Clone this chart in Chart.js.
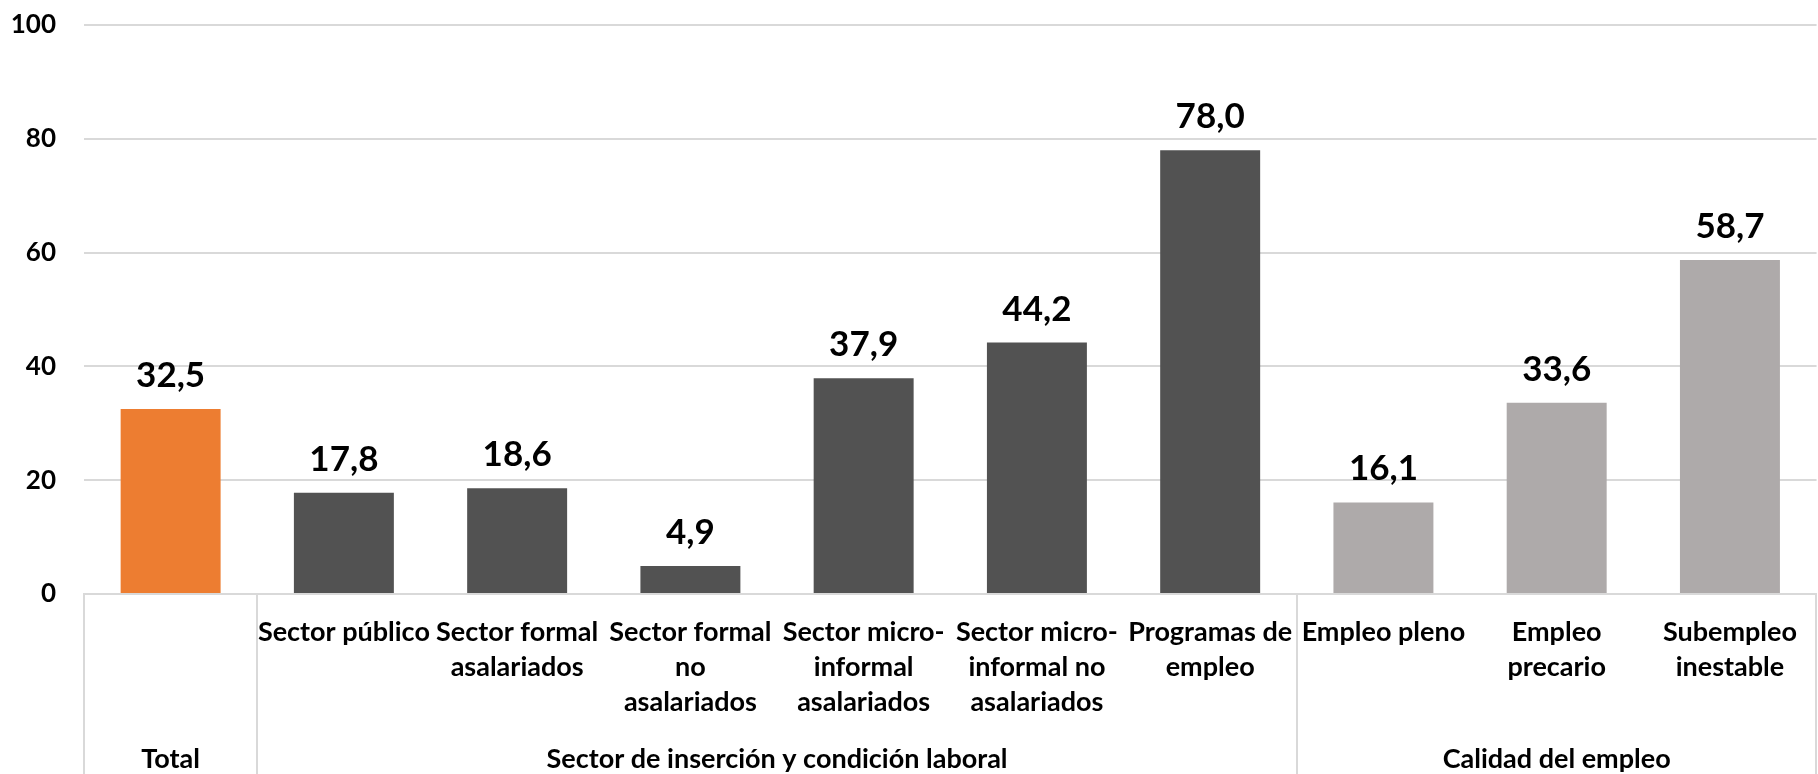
<!DOCTYPE html>
<html>
<head>
<meta charset="utf-8">
<script src="https://cdn.jsdelivr.net/npm/chart.js@4.4.1/dist/chart.umd.min.js"></script>
<style>
  html, body { margin: 0; padding: 0; background: #fff; }
  #wrap { width: 1818px; height: 774px; }
</style>
</head>
<body>
<div id="wrap"><canvas id="chart"></canvas></div>
<script>
// Etiquetas de categoría (multilínea) y valores
const categorias = [
    [''],
    ['Sector público'],
    ['Sector formal', 'asalariados'],
    ['Sector formal', 'no', 'asalariados'],
    ['Sector micro-', 'informal', 'asalariados'],
    ['Sector micro-', 'informal no', 'asalariados'],
    ['Programas de', 'empleo'],
    ['Empleo pleno'],
    ['Empleo', 'precario'],
    ['Subempleo', 'inestable']
];
const valores = [32.5, 17.8, 18.6, 4.9, 37.9, 44.2, 78.0, 16.1, 33.6, 58.7];
const colores = ['#ED7D31', '#525252', '#525252', '#525252', '#525252', '#525252', '#525252', '#AEAAAA', '#AEAAAA', '#AEAAAA'];

// Grupos del eje X: etiqueta, índice inicial y final
const grupos = ['Total', 'Sector de inserción y condición laboral', 'Calidad del empleo'];
const gruposInicio = [0, 1, 7];
const gruposFin = [0, 6, 9];

const yTicks = [0, 20, 40, 60, 80, 100];

const FUENTE = 'Lato, "Open Sans", sans-serif';
const PESO = 'bold';
const GRIS = '#D9D9D9';

// Plugin para las etiquetas de datos encima de cada barra
const etiquetasDatos = {
    id: 'etiquetasDatos',
    afterDatasetsDraw(chart) {
        const ctx = chart.ctx;
        const meta = chart.getDatasetMeta(0);
        ctx.save();
        ctx.font = PESO + ' 35px ' + FUENTE;
        ctx.fillStyle = '#000';
        ctx.textAlign = 'center';
        ctx.textBaseline = 'alphabetic';
        meta.data.forEach((bar, i) => {
            const txt = valores[i].toFixed(1).replace('.', ',');
            ctx.fillText(txt, bar.x, bar.y - 22);
        });
        ctx.restore();
    }
};

// Plugin para los separadores y las etiquetas de grupo bajo el eje
const ejeGrupos = {
    id: 'ejeGrupos',
    afterDraw(chart) {
        const ctx = chart.ctx;
        const area = chart.chartArea;
        const x = chart.scales.x;
        const paso = (area.right - area.left) / categorias.length;
        const bottom = chart.height;
        ctx.save();
        ctx.strokeStyle = GRIS;
        ctx.lineWidth = 2;
        const bordes = [0, 1, 7, categorias.length];
        bordes.forEach(b => {
            const px = Math.round(area.left + b * paso) - (b === categorias.length ? 1 : 0);
            ctx.beginPath();
            ctx.moveTo(px, area.bottom);
            ctx.lineTo(px, bottom);
            ctx.stroke();
        });
        ctx.font = PESO + ' 27px ' + FUENTE;
        ctx.fillStyle = '#000';
        ctx.textAlign = 'center';
        ctx.textBaseline = 'middle';
        grupos.forEach((g, i) => {
            const cx = (x.getPixelForValue(gruposInicio[i]) + x.getPixelForValue(gruposFin[i])) / 2;
            ctx.fillText(g, cx, 759);
        });
        ctx.restore();
    }
};

const ctx = document.getElementById('chart').getContext('2d');
window.graficoInstance = new Chart(ctx, {
    type: 'bar',
    data: {
        labels: categorias,
        datasets: [{
            data: valores,
            backgroundColor: colores,
            borderWidth: 0,
            barPercentage: 0.577,
            categoryPercentage: 1.0
        }]
    },
    plugins: [etiquetasDatos, ejeGrupos],
    options: {
        responsive: true,
        maintainAspectRatio: false,
        animation: false,
        layout: { padding: { top: 25, right: 0, left: 0, bottom: 0 } },
        plugins: {
            legend: { display: false },
            tooltip: { enabled: false }
        },
        scales: {
            y: {
                min: 0,
                max: 100,
                afterBuildTicks(axis) {
                    axis.ticks = yTicks.map(v => ({ value: v }));
                },
                afterFit(axis) {
                    axis.width = 84;
                    axis.paddingTop = 0;
                    axis.paddingBottom = 0;
                },
                grid: { color: GRIS, lineWidth: 2, drawTicks: false },
                border: { display: false },
                ticks: {
                    padding: 28,
                    color: '#000',
                    font: { family: FUENTE, size: 26, weight: PESO }
                }
            },
            x: {
                afterFit(axis) { axis.height = 180; },
                grid: { display: false, drawTicks: false },
                border: { display: true, color: GRIS, width: 2 },
                ticks: {
                    padding: 21,
                    maxRotation: 0,
                    autoSkip: false,
                    color: '#000',
                    font: { family: FUENTE, size: 27, weight: PESO, lineHeight: 1.3 }
                }
            }
        }
    }
});
</script>
</body>
</html>
